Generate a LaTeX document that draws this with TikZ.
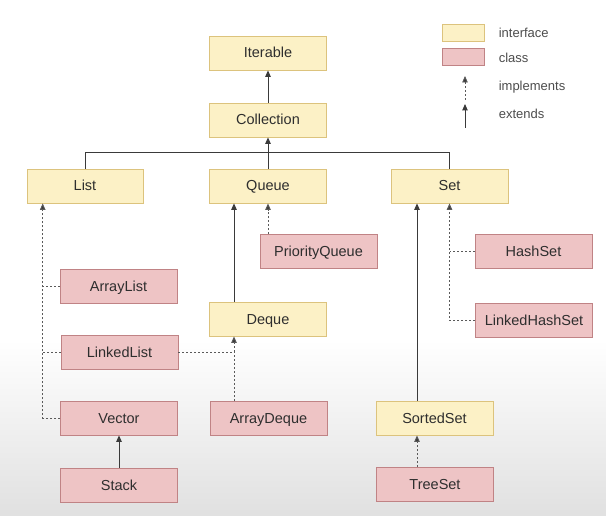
\documentclass[tikz,border=0pt]{standalone}
\usepackage{fontspec}
\setmainfont{Liberation Sans}
\usetikzlibrary{arrows.meta,calc}
\definecolor{ifill}{HTML}{FCF1C6}
\definecolor{idraw}{HTML}{DCC37D}
\definecolor{cfill}{HTML}{EEC4C5}
\definecolor{cdraw}{HTML}{C08385}
\definecolor{txt}{HTML}{2E2E2E}
\definecolor{lin}{HTML}{3A3A3A}
\definecolor{dot}{HTML}{5A5A5A}
\tikzset{
  box/.style={minimum width=117pt,minimum height=34pt,inner sep=0pt,line width=0.8pt,
    text height=11pt,text depth=1pt,
    font=\fontsize{14.5}{17}\selectfont,text=txt},
  iface/.style={box,fill=ifill,draw=idraw},
  cls/.style={box,fill=cfill,draw=cdraw},
  tip/.style={-{Triangle[length=6.5pt,width=5.5pt]}},
  ext/.style={draw=lin,line width=1pt,tip},
  extline/.style={draw=lin,line width=1pt},
  impl/.style={draw=dot,line width=0.9pt,dash pattern=on 2pt off 2pt,-{Triangle[length=6.5pt,width=5.5pt,fill=lin]}},
  implline/.style={draw=dot,line width=0.9pt,dash pattern=on 2pt off 2pt},
  legtext/.style={anchor=west,inner sep=0pt,font=\fontsize{13}{15}\selectfont,text=txt!85!white}
}
\begin{document}
\begin{tikzpicture}[x=1pt,y=-1pt]
\useasboundingbox (0,0) rectangle (606,516);
\fill[white] (0,0) rectangle (606,516);
\shade[top color=white,bottom color=black!12] (0,340) rectangle (606,516);

% interfaces
\node[iface] (Iterable)   at (268,53)  {Iterable};
\node[iface] (Collection) at (268,120) {Collection};
\node[iface,minimum width=116pt] (List) at (85,186) {List};
\node[iface] (Queue)      at (268,186) {Queue};
\node[iface] (Set)        at (449.5,186) {Set};
\node[iface] (Deque)      at (268,319) {Deque};
\node[iface] (SortedSet)  at (434.5,418) {SortedSet};

% classes
\node[cls] (PriorityQueue) at (318.5,251.5) {PriorityQueue};
\node[cls] (ArrayList)     at (118.5,286)   {ArrayList};
\node[cls] (LinkedList)    at (119.5,352)   {LinkedList};
\node[cls] (HashSet)       at (533.5,251.5) {HashSet};
\node[cls] (LinkedHashSet) at (534,320)     {LinkedHashSet};
\node[cls] (Vector)        at (119,418)     {Vector};
\node[cls] (ArrayDeque)    at (268.5,418)   {ArrayDeque};
\node[cls] (Stack)         at (119,485)     {Stack};
\node[cls] (TreeSet)       at (435,484.5)   {TreeSet};

% helper coordinates
\coordinate (bus) at (268,152.5);
\coordinate (lx) at ([xshift=-42.3pt]List.south);
\coordinate (qx) at ([xshift=-34pt]Queue.south);
\coordinate (dx) at ([xshift=-34pt]Deque.south);
\coordinate (sx) at ([xshift=-32.5pt]Set.south);

% extends
\draw[ext] (Collection.north) -- (Iterable.south);
\draw[extline] (List.north) |- (bus) -| (Set.north);
\draw[ext] (Queue.north) -- (Collection.south);
\draw[ext] (Deque.north -| qx) -- (qx);
\draw[ext] (SortedSet.north -| sx) -- (sx);
\draw[ext] (Stack.north) -- (Vector.south);

% implements
\draw[impl] (Vector.west) -| (lx);
\draw[implline] (ArrayList.west) -- (ArrayList.west -| lx);
\draw[implline] (LinkedList.west) -- (LinkedList.west -| lx);
\draw[impl] (LinkedList.east) -| (dx);
\draw[implline] (ArrayDeque.north -| dx) -- (LinkedList.east -| dx);
\draw[impl] (PriorityQueue.north -| Queue.south) -- (Queue.south);
\draw[impl] (LinkedHashSet.west) -| (Set.south);
\draw[implline] (HashSet.west) -- (HashSet.west -| Set.south);
\draw[impl] (TreeSet.north -| sx) -- (SortedSet.south -| sx);

% legend
\node[fill=ifill,draw=idraw,line width=0.8pt,minimum width=42pt,minimum height=17pt,inner sep=0pt] (legI) at (463.8,32.5) {};
\node[fill=cfill,draw=cdraw,line width=0.8pt,minimum width=42pt,minimum height=17pt,inner sep=0pt] (legC) at (463.8,57.3) {};
\node[legtext] (legIt) at (498.6,33) {interface};
\node[legtext] (legCt) at (498.6,58) {class};
\node[legtext] (legImt) at (498.6,87) {implements};
\node[legtext] (legExt) at (498.6,114) {extends};
\coordinate (impA) at (465,100);
\coordinate (impB) at (465,76);
\coordinate (extA) at (465,128);
\coordinate (extB) at (465,104);
\draw[impl] (impA) -- (impB);
\draw[ext] (extA) -- (extB);
\end{tikzpicture}
\end{document}
